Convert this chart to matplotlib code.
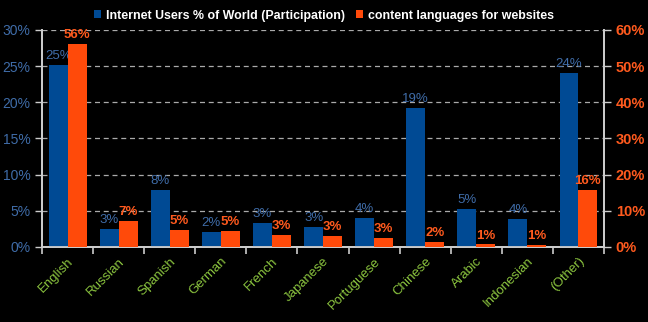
import matplotlib
matplotlib.use("Agg")
import matplotlib.pyplot as plt
import numpy as np

languages = ["English", "Russian", "Spanish", "German", "French", "Japanese",
             "Portuguese", "Chinese", "Arabic", "Indonesian", "(Other)"]
users_pct = [25.2, 2.5, 7.9, 2.1, 3.3, 2.8, 4.0, 19.2, 5.2, 3.9, 24.1]
users_labels = ["25%", "3%", "8%", "2%", "3%", "3%", "4%", "19%", "5%", "4%", "24%"]
content_pct = [56.1, 7.2, 4.7, 4.5, 3.3, 3.0, 2.5, 1.5, 0.7, 0.5, 15.7]
content_labels = ["56%", "7%", "5%", "5%", "3%", "3%", "3%", "2%", "1%", "1%", "16%"]

plt.rcParams['font.family'] = ['Liberation Sans', 'DejaVu Sans']

blue = '#004a94'
orange = '#ff4a0a'
blue_txt = '#3f6ca8'
orange_txt = '#ff5a1e'
green_txt = '#8cc63f'

fig = plt.figure(figsize=(6.48, 3.22), dpi=100, facecolor='black')
ax = fig.add_axes([0.065, 0.233, 0.867, 0.674], facecolor='black')
ax2 = ax.twinx()

x = np.arange(len(languages))
w = 0.37
b1 = ax.bar(x - w / 2, users_pct, w, color=blue, zorder=3,
            label='Internet Users % of World (Participation)')
b2 = ax2.bar(x + w / 2, content_pct, w, color=orange, zorder=3,
             label='content languages for websites')

ax.set_ylim(0, 30)
ax2.set_ylim(0, 60)
ax.set_xlim(-0.5, len(languages) - 0.5)
ax.set_yticks(range(0, 31, 5))
ax.set_yticklabels([f"{v}%" for v in range(0, 31, 5)], color=blue_txt, fontsize=10)
ax2.set_yticks(range(0, 61, 10))
ax2.set_yticklabels([f"{v}%" for v in range(0, 61, 10)], color=orange_txt,
                    fontsize=10.5, fontweight='bold')

# grille pointillee grise
ax.grid(axis='y', color='#aaaaaa', linestyle=(0, (4, 3)), linewidth=0.9, zorder=0)
ax.set_axisbelow(True)

ax.set_xticks(x)
ax.set_xticklabels(languages, rotation=45, ha='right', rotation_mode='anchor',
                   color=green_txt, fontsize=9.5)
ax.tick_params(axis='x', length=0, pad=6)
ax.set_xticks(np.arange(-0.5, len(languages) - 0.4, 1), minor=True)
ax.tick_params(axis='x', which='minor', length=5, color='#cccccc', width=1.2)
ax.tick_params(axis='y', length=5, color='#cccccc', width=1)
ax2.tick_params(axis='y', length=5, color='#cccccc', width=1)

for a in (ax, ax2):
    a.spines['top'].set_visible(False)
    for side in ('left', 'right', 'bottom'):
        a.spines[side].set_color('#cccccc')
        a.spines[side].set_linewidth(1.3)

for rect, lab in zip(b1, users_labels):
    ax.text(rect.get_x() + rect.get_width() / 2, rect.get_height() + 0.4, lab,
            ha='center', va='bottom', color=blue_txt, fontsize=9.5, zorder=4)
for rect, lab in zip(b2, content_labels):
    ax2.text(rect.get_x() + rect.get_width() / 2, rect.get_height() + 0.8, lab,
             ha='center', va='bottom', color=orange_txt, fontsize=9.5,
             fontweight='bold', zorder=4)

handles = [b1, b2]
leg = fig.legend(handles, [h.get_label() for h in handles], loc='upper center',
                 bbox_to_anchor=(0.5, 1.005), ncol=2, frameon=False,
                 handlelength=0.6, handleheight=0.6, handletextpad=0.4,
                 columnspacing=0.9, fontsize=8.9)
for t in leg.get_texts():
    t.set_color('white')
    t.set_fontweight('bold')

fig.savefig('out.png', dpi=100, facecolor='black')
